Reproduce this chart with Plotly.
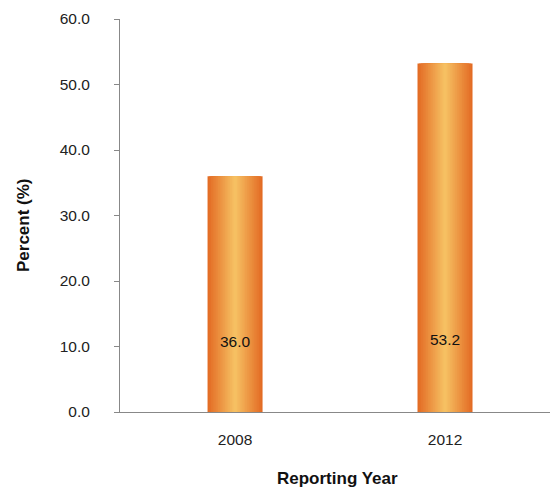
import plotly.graph_objects as go

years = ["2008", "2012"]
values = [36.0, 53.2]
label_texts = ["36.0", "53.2"]
y_ticks = [0, 10, 20, 30, 40, 50, 60]
y_tick_labels = ["0.0", "10.0", "20.0", "30.0", "40.0", "50.0", "60.0"]

edge = (227, 108, 37)
center = (246, 192, 98)
bar_width = 0.262
steps = 16

fig = go.Figure()
xpos = [0, 1]
for i in range(steps):
    t = i / (steps - 1)
    c = tuple(round(edge[k] + (center[k] - edge[k]) * t) for k in range(3))
    w = bar_width * (1 - i / steps)
    fig.add_trace(go.Bar(x=xpos, y=values, width=[w, w],
                         marker=dict(color="rgb(%d,%d,%d)" % c, line=dict(width=0)),
                         showlegend=False, hoverinfo="skip"))

fig.add_trace(go.Scatter(x=xpos, y=[10.5, 10.8], mode="text", text=label_texts,
                         textfont=dict(family="Liberation Sans, Arial", size=15.5, color="#111"),
                         showlegend=False, hoverinfo="skip"))

fig.update_layout(
    width=551, height=487, barmode="overlay",
    margin=dict(l=120, r=1, t=19, b=75),
    paper_bgcolor="white", plot_bgcolor="white",
    font=dict(family="Liberation Sans, Arial", size=15.5, color="#222"),
    xaxis=dict(range=[-0.548, 1.5], tickvals=xpos, ticktext=years,
               showgrid=False, zeroline=False, showline=True, linecolor="#888",
               linewidth=1, ticks="", ticklabelstandoff=13),
    yaxis=dict(range=[0, 60], tickvals=y_ticks, ticktext=y_tick_labels,
               showgrid=False, zeroline=False, showline=True, linecolor="#888",
               linewidth=1, ticks="outside", ticklen=5, tickcolor="#888",
               ticklabelstandoff=21),
    annotations=[
        dict(text="<b>Reporting Year</b>", showarrow=False,
             xref="paper", yref="paper",
             x=(337 - 120) / 430, y=-(478 - 412) / 393,
             xanchor="center", yanchor="middle",
             font=dict(size=17, color="#111")),
        dict(text="<b>Percent (%)</b>", showarrow=False, textangle=-90,
             xref="paper", yref="paper",
             x=-(120 - 23) / 430, y=(412 - 225) / 393,
             xanchor="center", yanchor="middle",
             font=dict(size=17, color="#111")),
    ],
)

fig.write_html("out.html")
